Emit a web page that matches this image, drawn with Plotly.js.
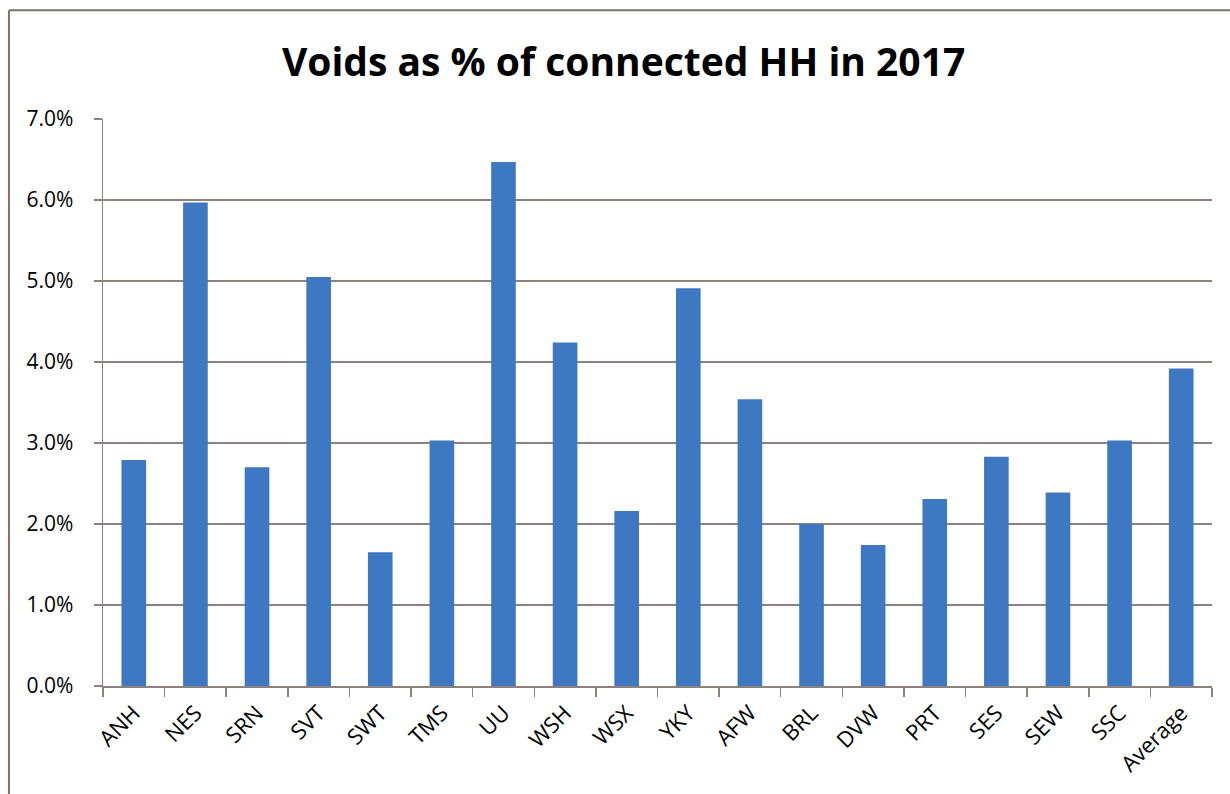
<!DOCTYPE html>
<html>
<head>
<meta charset="utf-8">
<script src="https://cdn.plot.ly/plotly-3.0.1.min.js"></script>
<style>
  html, body { margin: 0; padding: 0; background: #ffffff; }
  #chart { width: 1230px; height: 794px; }
</style>
</head>
<body>
<div id="chart"></div>
<script>
const categories = ["ANH", "NES", "SRN", "SVT", "SWT", "TMS", "UU", "WSH", "WSX", "YKY",
                    "AFW", "BRL", "DVW", "PRT", "SES", "SEW", "SSC", "Average"];
const voidsPct = [2.79, 5.97, 2.70, 5.05, 1.65, 3.03, 6.47, 4.24, 2.16, 4.91,
                  3.54, 2.00, 1.74, 2.31, 2.83, 2.39, 3.03, 3.92];
const yTickVals = [0, 1, 2, 3, 4, 5, 6, 7];
const yTickText = ["0.0%", "1.0%", "2.0%", "3.0%", "4.0%", "5.0%", "6.0%", "7.0%"];
const titleText = "Voids as % of connected HH in 2017";

const axisColor = "#8c817c";
const fontFam = "'Open Sans', 'Liberation Sans', sans-serif";

const trace = {
  type: "bar",
  x: categories,
  y: voidsPct,
  marker: { color: "#3f78c2" },
  hoverinfo: "x+y"
};

const layout = {
  width: 1230,
  height: 794,
  margin: { l: 103, r: 18, t: 119, b: 108 },
  paper_bgcolor: "#ffffff",
  plot_bgcolor: "#ffffff",
  bargap: 0.6,
  showlegend: false,
  title: {
    text: "<b>" + titleText + "</b>",
    x: 0.507,
    xanchor: "center",
    xref: "container",
    y: 0.922,
    yanchor: "middle",
    yref: "container",
    font: { family: fontFam, size: 39, color: "#000000" }
  },
  xaxis: {
    type: "category",
    tickangle: -45,
    tickson: "boundaries",
    ticks: "outside",
    ticklen: 9,
    tickcolor: axisColor,
    tickwidth: 1.5,
    showline: true,
    linecolor: axisColor,
    linewidth: 1.5,
    showgrid: false,
    ticklabelstandoff: 4,
    tickfont: { family: fontFam, size: 22, color: "#000000" }
  },
  yaxis: {
    range: [0, 7],
    tickvals: yTickVals,
    ticktext: yTickText,
    ticks: "outside",
    ticklen: 8,
    tickcolor: axisColor,
    tickwidth: 1.5,
    showline: true,
    linecolor: axisColor,
    linewidth: 1.5,
    showgrid: true,
    gridcolor: axisColor,
    gridwidth: 1.5,
    zeroline: false,
    ticklabelstandoff: 16,
    tickfont: { family: fontFam, size: 21, color: "#000000" }
  },
  shapes: [
    { type: "line", xref: "paper", yref: "paper", x0: -0.0848, x1: 1.1, y0: 1.192, y1: 1.192,
      line: { color: "#7d736f", width: 2 } },
    { type: "line", xref: "paper", yref: "paper", x0: -0.0848, x1: -0.0848, y0: 1.192, y1: -0.3,
      line: { color: "#7d736f", width: 2 } }
  ]
};

Plotly.newPlot("chart", [trace], layout, { displayModeBar: false, staticPlot: true });
</script>
</body>
</html>
